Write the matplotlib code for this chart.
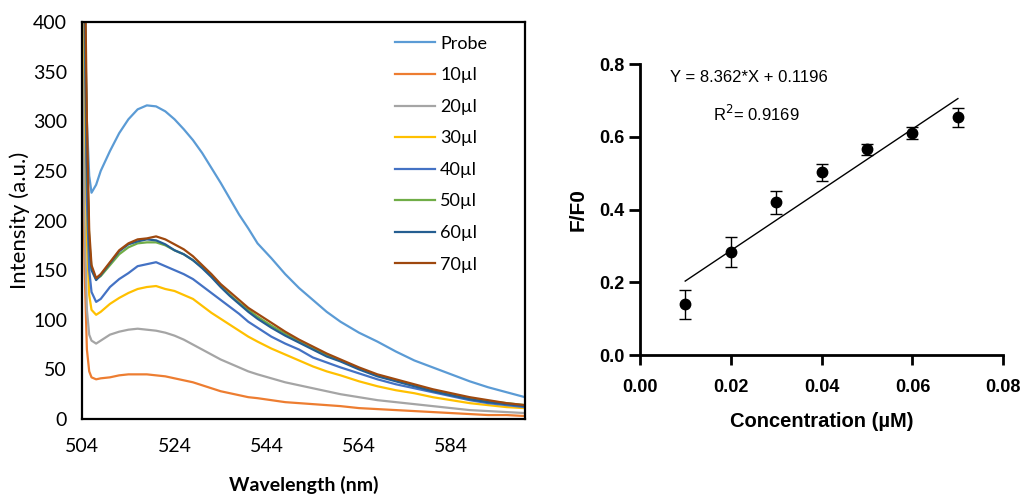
import matplotlib
matplotlib.use("Agg")
import matplotlib.pyplot as plt

# --- left panel: emission spectra ---
wavelength = [504, 504.5, 505, 505.5, 506, 507, 508, 510, 512, 514, 516, 518, 520, 522, 524,
              526, 528, 530, 532, 534, 536, 538, 540, 542, 545, 548, 551, 554, 557, 560,
              564, 568, 572, 576, 580, 584, 588, 592, 596, 600]

probe = [560, 420, 300, 245, 228, 236, 250, 270, 288, 302, 312, 316, 315, 310, 302,
         292, 281, 268, 253, 238, 222, 206, 192, 177, 162, 146, 132, 120, 108, 98,
         87, 78, 68, 59, 52, 45, 38, 32, 27, 22]
ul10 = [300, 150, 70, 48, 42, 40, 41, 42, 44, 45, 45, 45, 44, 43, 41,
        39, 37, 34, 31, 28, 26, 24, 22, 21, 19, 17, 16, 15, 14, 13,
        11, 10, 9, 8, 7, 6, 5, 4, 4, 3]
ul20 = [400, 200, 110, 85, 79, 76, 79, 85, 88, 90, 91, 90, 89, 87, 84,
        80, 75, 70, 65, 60, 56, 52, 48, 45, 41, 37, 34, 31, 28, 25,
        22, 19, 17, 15, 13, 11, 9, 8, 7, 6]
ul30 = [600, 350, 180, 125, 110, 105, 108, 116, 122, 127, 131, 133, 134, 131, 129,
        125, 121, 114, 107, 101, 95, 89, 83, 78, 71, 65, 59, 53, 48, 44,
        38, 33, 29, 26, 22, 19, 16, 14, 12, 11]
ul40 = [600, 400, 220, 150, 128, 118, 121, 133, 141, 147, 154, 156, 158, 154, 150,
        146, 141, 134, 127, 120, 113, 106, 98, 92, 83, 76, 70, 62, 57, 52,
        46, 40, 35, 31, 27, 23, 19, 16, 14, 12]
ul50 = [600, 450, 270, 180, 152, 141, 144, 155, 166, 173, 177, 178, 178, 175, 170,
        166, 160, 153, 144, 134, 125, 117, 110, 103, 94, 86, 78, 71, 65, 59,
        51, 44, 39, 34, 29, 25, 21, 18, 16, 14]
ul60 = [600, 440, 260, 175, 150, 140, 145, 157, 169, 176, 179, 181, 180, 176, 170,
        166, 160, 152, 143, 133, 124, 116, 108, 101, 92, 84, 77, 70, 63, 58,
        50, 43, 38, 33, 28, 24, 20, 17, 15, 13]
ul70 = [600, 480, 300, 190, 155, 142, 146, 158, 170, 177, 181, 182, 184, 181, 176,
        171, 164, 155, 146, 136, 128, 120, 112, 106, 97, 88, 80, 73, 66, 60,
        52, 45, 40, 35, 30, 26, 22, 19, 16, 14]

series_labels = ["Probe", "10µl", "20µl", "30µl", "40µl", "50µl", "60µl", "70µl"]
series_colors = ["#5B9BD5", "#ED7D31", "#A5A5A5", "#FFC000",
                 "#4472C4", "#70AD47", "#255E91", "#9E480E"]
wl_ticks = [504, 524, 544, 564, 584]

# --- right panel: calibration ---
conc = [0.01, 0.02, 0.03, 0.04, 0.05, 0.06, 0.07]
ratio = [0.139, 0.283, 0.420, 0.502, 0.566, 0.611, 0.653]
ratio_err = [0.040, 0.041, 0.031, 0.023, 0.015, 0.017, 0.026]
slope, intercept = 8.362, 0.1196

fig = plt.figure(figsize=(10.21, 4.97), dpi=100)

# left chart (Excel style)
ax1 = fig.add_axes([0.0806, 0.1569, 0.4336, 0.7988])
all_series = [probe, ul10, ul20, ul30, ul40, ul50, ul60, ul70]
for vals, lab, col in zip(all_series, series_labels, series_colors):
    ax1.plot(wavelength, vals, color=col, lw=1.6, label=lab)
ax1.set_xlim(504, 600)
ax1.set_ylim(0, 400)
ax1.set_xticks(wl_ticks)
ax1.set_yticks(range(0, 401, 50))
ax1.tick_params(length=0, labelsize=14, pad=14)
ax1.tick_params(axis='y', pad=11)
for lab in ax1.get_xticklabels() + ax1.get_yticklabels():
    lab.set_fontfamily("Lato")
for sp in ax1.spines.values():
    sp.set_linewidth(1.6)
    sp.set_color("black")
ax1.set_ylabel("Intensity (a.u.)", fontsize=16, family="Lato", labelpad=2)
ax1.set_xlabel("Wavelength (nm)", fontsize=14, family="Lato", fontweight="bold", labelpad=15)
ax1.legend(loc="upper left", bbox_to_anchor=(0.686, 0.988), frameon=False,
           prop={"family": "Lato", "size": 13}, borderpad=0, labelspacing=0.86,
           handlelength=2.2, handletextpad=0.3)

# right chart (Prism style)
ax2 = fig.add_axes([0.6266, 0.2857, 0.3561, 0.5855])
ax2.errorbar(conc, ratio, yerr=ratio_err, fmt='o', color='black', ms=7.5,
             capsize=4, elinewidth=1, capthick=1)
fit_x = [conc[0], conc[-1]]
fit_y = [slope * x + intercept for x in fit_x]
ax2.plot(fit_x, fit_y, color='black', lw=1)
ax2.set_xlim(0, 0.08)
ax2.set_ylim(0, 0.8)
ax2.set_xticks([0, 0.02, 0.04, 0.06, 0.08])
ax2.set_xticklabels(["0.00", "0.02", "0.04", "0.06", "0.08"])
ax2.set_yticks([0, 0.2, 0.4, 0.6, 0.8])
ax2.set_yticklabels(["0.0", "0.2", "0.4", "0.6", "0.8"])
ax2.spines['top'].set_visible(False)
ax2.spines['right'].set_visible(False)
for sp in ['left', 'bottom']:
    ax2.spines[sp].set_linewidth(2)
ax2.tick_params(width=2, labelsize=13)
ax2.tick_params(axis='x', length=7, pad=10)
ax2.tick_params(axis='y', length=8, pad=3)
for lab in ax2.get_xticklabels() + ax2.get_yticklabels():
    lab.set_fontfamily("Liberation Sans")
    lab.set_fontweight("bold")
ax2.set_xlabel("Concentration (µM)", fontsize=14.5, family="Liberation Sans",
               fontweight="bold", labelpad=12)
ax2.set_ylabel("F/F0", fontsize=15, family="Liberation Sans", fontweight="bold", labelpad=8)
ax2.text(0.0067, 0.764, "Y = 8.362*X + 0.1196", fontsize=12, family="Liberation Sans",
         ha="left", va="center")
ax2.text(0.0161, 0.6625, "R$^2$= 0.9169", fontsize=12, family="Liberation Sans",
         ha="left", va="center")

fig.savefig("out.png", dpi=100)
